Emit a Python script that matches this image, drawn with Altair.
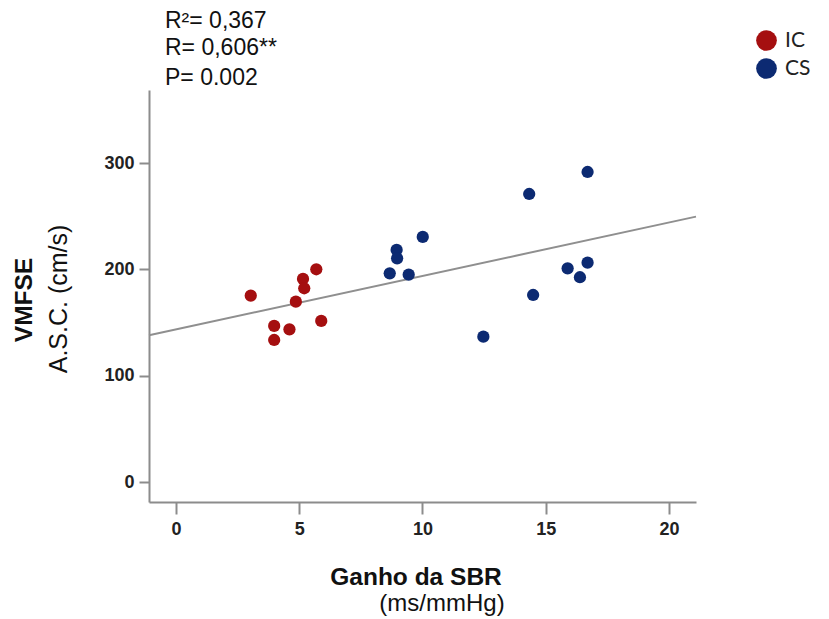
import altair as alt
import pandas as pd

# ---- data ----
ic_x = [3.03, 3.98, 3.98, 4.60, 4.86, 5.15, 5.20, 5.69, 5.89]
ic_y = [175.3, 146.8, 133.6, 143.6, 169.6, 191.0, 182.2, 200.1, 151.5]
cs_x = [8.67, 8.95, 8.97, 9.44, 10.01, 12.47, 14.33, 14.49, 15.89, 16.39, 16.70, 16.70]
cs_y = [196.3, 218.3, 210.4, 195.0, 230.5, 136.7, 270.9, 175.9, 201.0, 192.6, 206.3, 291.6]
groups = ["IC", "CS"]
colors = ["#a50f10", "#0c2a72"]
fit_x = [-1.1, 21.1]
fit_y = [138.0, 249.6]
stats_lines = ["R²= 0,367", "R= 0,606**", "P= 0.002"]
x_ticks = [0, 5, 10, 15, 20]
y_ticks = [0, 100, 200, 300]

pts = pd.DataFrame({
    "x": ic_x + cs_x,
    "y": ic_y + cs_y,
    "g": ["IC"] * len(ic_x) + ["CS"] * len(cs_x),
})
fit = pd.DataFrame({"x": fit_x, "y": fit_y})

W, H = 547, 412
xs = alt.Scale(domain=[-1.1, 21.1], nice=False, zero=False)
ys = alt.Scale(domain=[-18.8, 368.7], nice=False, zero=False)

x_axis = alt.Axis(values=x_ticks, title=None, grid=False, domainColor="#8c8c8c",
                  tickColor="#8c8c8c", tickSize=12, tickWidth=2, domainWidth=2,
                  labelFont="Liberation Sans", labelFontWeight="bold", labelFontSize=18,
                  labelColor="#222222", labelPadding=6)
y_axis = alt.Axis(values=y_ticks, title=None, grid=False, domainColor="#8c8c8c",
                  tickColor="#8c8c8c", tickSize=10, tickWidth=2, domainWidth=2,
                  labelFont="Liberation Sans", labelFontWeight="bold", labelFontSize=18,
                  labelColor="#222222", labelPadding=5)

line = alt.Chart(fit).mark_line(color="#8f8f8f", strokeWidth=2).encode(
    x=alt.X("x:Q", scale=xs, axis=x_axis),
    y=alt.Y("y:Q", scale=ys, axis=y_axis),
)

points = alt.Chart(pts).mark_circle(size=150, opacity=1).encode(
    x=alt.X("x:Q", scale=xs),
    y=alt.Y("y:Q", scale=ys),
    color=alt.Color("g:N", scale=alt.Scale(domain=groups, range=colors),
                    legend=alt.Legend(orient="none", legendX=607, legendY=-60, title=None,
                                      symbolType="circle", symbolSize=430,
                                      symbolStrokeWidth=0, labelFont="Lato",
                                      labelFontSize=21, labelColor="#222222",
                                      rowPadding=6, labelOffset=8)),
)

stat_ys = [-69, -42, -12]
stat_layers = [
    alt.Chart(pd.DataFrame({"t": [s]})).mark_text(
        align="left", baseline="middle", font="Liberation Sans", fontSize=23,
        color="#111111").encode(x=alt.value(16), y=alt.value(yy), text="t:N")
    for s, yy in zip(stats_lines, stat_ys)
]

xt1 = alt.Chart(pd.DataFrame({"t": ["Ganho da SBR"]})).mark_text(
    font="Liberation Sans", fontWeight="bold", fontSize=24.5, color="#111111").encode(
    x=alt.value(267), y=alt.value(488), text="t:N")
xt2 = alt.Chart(pd.DataFrame({"t": ["(ms/mmHg)"]})).mark_text(
    font="Liberation Sans", fontSize=24, color="#111111").encode(
    x=alt.value(293), y=alt.value(514), text="t:N")
yt1 = alt.Chart(pd.DataFrame({"t": ["VMFSE"]})).mark_text(
    font="Liberation Sans", fontWeight="bold", fontSize=24.5, color="#111111", angle=270).encode(
    x=alt.value(-124), y=alt.value(210), text="t:N")
yt2 = alt.Chart(pd.DataFrame({"t": ["A.S.C. (cm/s)"]})).mark_text(
    font="Liberation Sans", fontSize=25, color="#111111", angle=270).encode(
    x=alt.value(-90), y=alt.value(209), text="t:N")

chart = alt.layer(line, points, *stat_layers, xt1, xt2, yt1, yt2).properties(
    width=W, height=H,
    autosize=alt.AutoSizeParams(type="none"),
    padding={"left": 141, "top": 82, "right": 120, "bottom": 116},
).configure_view(stroke=None)

chart.save("out.html", embed_options={"renderer": "svg", "actions": False})
